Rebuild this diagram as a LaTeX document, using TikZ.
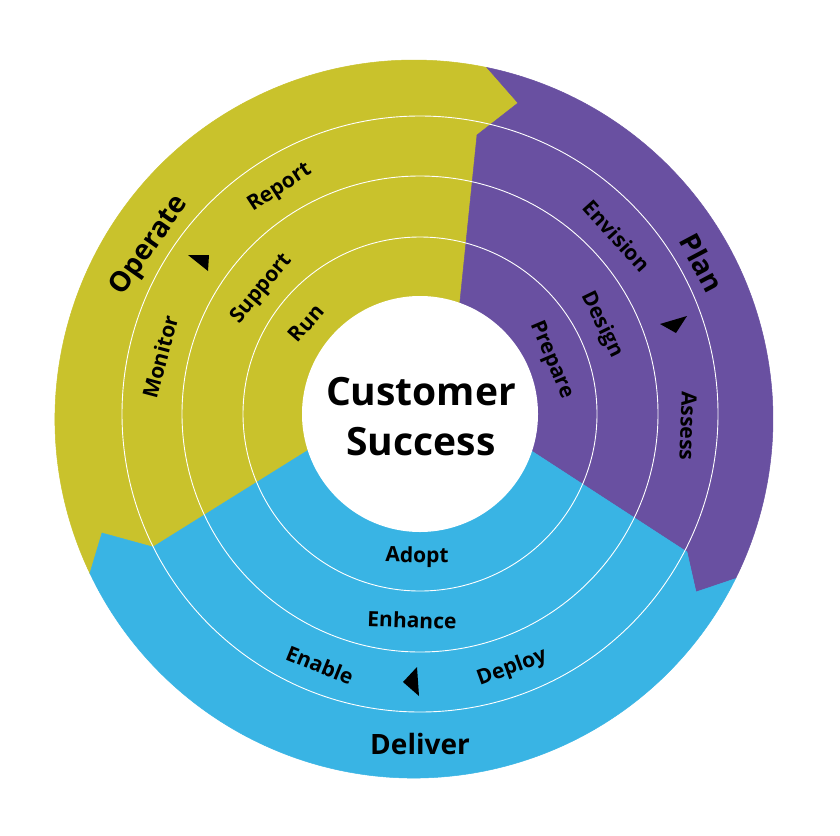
\documentclass[tikz,border=0pt]{standalone}
\usepackage{fontspec}
\setmainfont{Open Sans}
\usetikzlibrary{calc}
\definecolor{csyellow}{RGB}{201,194,44}
\definecolor{cspurple}{RGB}{105,80,161}
\definecolor{csblue}{RGB}{57,180,228}

\begin{document}
\begin{tikzpicture}[x=1pt, y=1pt]
  \tikzset{
    stage/.style={font=\fontsize{21}{24}\selectfont\bfseries, inner sep=0pt},
    phase/.style={font=\fontsize{28}{32}\selectfont\bfseries, inner sep=0pt},
    hub/.style={font=\fontsize{39}{50}\selectfont\bfseries, align=center, inner sep=0pt},
    ring/.style={draw=white, line width=0.9pt},
    band/.style={line width=0.5pt}
  }
  \useasboundingbox (0,0) rectangle (840,-835);
  \fill[white] (0,0) rectangle (840,-835);

  % --- centres of the outer rim and of the rings ---
  \coordinate (oc) at (414,-419);
  \coordinate (rc) at (420,-414);

  % --- boundaries between the phases (inner, ring, tip, rim) ---
  \coordinate (IA) at (455,-350); \coordinate (MA) at (477,-135);
  \coordinate (TA) at (518,-103); \coordinate (OA) at ($(oc)+(78.28:359)$);
  \coordinate (IB) at (487,-422); \coordinate (MB) at (687,-552);
  \coordinate (TB) at (696,-592); \coordinate (OB) at ($(oc)+(-26.4:359)$);
  \coordinate (IC) at (355,-421); \coordinate (MC) at (153,-547);
  \coordinate (TC) at (102,-533); \coordinate (OC) at ($(oc)+(205.46:359)$);

  % --- the three phase bands ---
  \filldraw[band, fill=csyellow, draw=csyellow] (IC) -- (MC) -- (TC) -- (OC)
    arc[start angle=205.46, end angle=78.28, radius=359] -- (TA) -- (MA) -- (IA) -- cycle;
  \filldraw[band, fill=cspurple, draw=cspurple] (IA) -- (MA) -- (TA) -- (OA)
    arc[start angle=78.28, end angle=-26.4, radius=359] -- (TB) -- (MB) -- (IB) -- cycle;
  \filldraw[band, fill=csblue, draw=csblue] (IB) -- (MB) -- (TB) -- (OB)
    arc[start angle=-26.4, end angle=-154.54, radius=359] -- (TC) -- (MC) -- (IC) -- cycle;

  % --- rings and hub ---
  \foreach \r in {177,238,298} {
    \draw[ring] (rc) circle[radius=\r];
  }
  \fill[white] (rc) circle[radius=118];
  \node[hub] (hub) at (421,-417) {Customer\\Success};

  % --- Operate ---
  \node[phase, rotate=55] (operate) at (150,-246) {Operate};
  \node[stage, rotate=33] (report) at (280,-188) {Report};
  \node[stage, rotate=75] (monitor) at (160,-357) {Monitor};
  \node[stage, rotate=50] (support) at (262,-289) {Support};
  \node[stage, rotate=49] (run) at (306,-323) {Run};
  \fill (188,-255) -- (209,-255) -- (208,-271) -- cycle;

  % --- Plan ---
  \node[phase, rotate=-62] (plan) at (702,-263) {Plan};
  \node[stage, rotate=-48] (envision) at (617,-236) {Envision};
  \node[stage, rotate=-64] (design) at (602,-325) {Design};
  \node[stage, rotate=-67] (prepare) at (551,-360) {Prepare};
  \node[stage, rotate=-92] (assess) at (688,-426) {Assess};
  \fill (660,-324) -- (687,-316) -- (676,-333) -- cycle;

  % --- Deliver ---
  \node[phase] (deliver) at (420,-744) {Deliver};
  \node[stage, rotate=-1] (adopt) at (417,-557) {Adopt};
  \node[stage, rotate=-2] (enhance) at (412,-620) {Enhance};
  \node[stage, rotate=-22] (enable) at (320,-665) {Enable};
  \node[stage, rotate=20] (deploy) at (512,-668) {Deploy};
  \fill (403,-682) -- (417,-667) -- (419,-696) -- cycle;
\end{tikzpicture}
\end{document}
